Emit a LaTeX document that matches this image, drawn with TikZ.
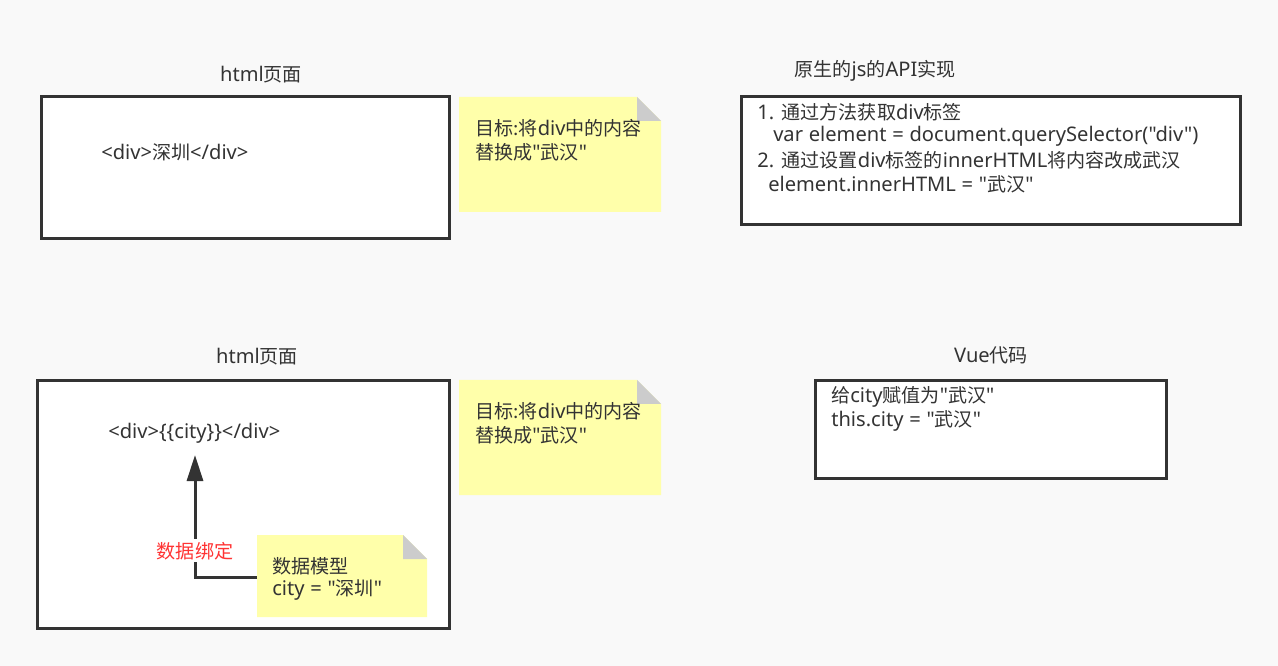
\documentclass[tikz,border=0pt]{standalone}
\usepackage{fontspec}
\setmainfont{Noto Sans}[Ligatures=TeXOff, Scale=1.055, WordSpace=1.1]
\newfontfamily\cjkfont{Noto Sans CJK SC}[Ligatures=TeXOff]
\newcommand{\zh}[1]{{\cjkfont #1}}
\usetikzlibrary{arrows.meta}
\definecolor{bg}{HTML}{F9F9F9}
\definecolor{edge}{HTML}{333333}
\definecolor{notey}{HTML}{FFFFAA}
\definecolor{fold}{HTML}{CCCCCC}
\definecolor{txt}{HTML}{333333}
\definecolor{redlab}{HTML}{FF3333}
\tikzset{
  frame/.style={draw=edge, line width=2.25pt, fill=white},
  txtw/.style={anchor=west, inner sep=0pt, text=txt, font=\fontsize{14.3}{17}\selectfont},
  ttl/.style={anchor=center, inner sep=0pt, text=txt, font=\fontsize{14.3}{17}\selectfont},
  conn/.style={draw=edge, line width=2.25pt, -{Triangle[width=12pt,length=19.5pt]}},
}
\newcommand{\stickynote}[5]{% name, x1,y1,x2,y2
  \fill[notey] (#2,#3) -- (#4-24,#3) -- (#4,#3+24) -- (#4,#5) -- (#2,#5) -- cycle;
  \fill[fold] (#4-24,#3) -- (#4-24,#3+24) -- (#4,#3+24) -- cycle;
  \coordinate (#1) at ({(#2+#4)/2},{(#3+#5)/2});
  \coordinate (#1-w) at (#2,{(#3+#5)/2});
}
\begin{document}
\begin{tikzpicture}[x=0.75pt,y=-0.75pt]
\fill[bg] (0,0) rectangle (1278,666);
\useasboundingbox (0,0) rectangle (1278,666);

% top-left
\node[ttl] (t1) at (261,75) {html\zh{页面}};
\draw[frame] (41,97) rectangle (449,239);
\node[txtw] (d1) at (101,152) {<div>\zh{深圳}</div>};
\stickynote{n1}{459}{97}{661}{212}
\node[txtw] (n1a) at (475,128) {\zh{目标:将}div\zh{中的内容}};
\node[txtw] (n1b) at (475,152) {\zh{替换成}"\zh{武汉}"};

% top-right
\node[ttl] (t2) at (875,71) {\zh{原生的}js\zh{的}API\zh{实现}};
\draw[frame] (741,97) rectangle (1240,225);
\node[txtw] (l1) at (757,112) {1. \zh{通过方法获取}div\zh{标签}};
\node[txtw] (l2) at (773,136) {var element = document.querySelector("div")};
\node[txtw] (l3) at (757,160) {2. \zh{通过设置}div\zh{标签的}innerHTML\zh{将内容改成武汉}};
\node[txtw] (l4) at (768,184) {element.innerHTML = "\zh{武汉}"};

% bottom-left
\node[ttl] (t3) at (257,357) {html\zh{页面}};
\draw[frame] (37,381) rectangle (449,628);
\node[txtw] (d2) at (108,433) {<div>\{\{city\}\}</div>};
\stickynote{n3}{257}{535}{427}{617}
\node[txtw] (m1) at (272,566) {\zh{数据模型}};
\node[txtw] (m2) at (272,590) {city = "\zh{深圳}"};
\coordinate (tip) at (195,455);
\coordinate (start) at (257,577);
\draw[conn] (start) -| (tip)
  node[pos=0.607, fill=white, inner sep=2pt, text=redlab, font=\fontsize{14.3}{17}\selectfont] (lab) {\zh{数据绑定}};

\stickynote{n2}{459}{380}{661}{495}
\node[txtw] (n2a) at (475,411) {\zh{目标:将}div\zh{中的内容}};
\node[txtw] (n2b) at (475,435) {\zh{替换成}"\zh{武汉}"};

% bottom-right
\node[ttl] (t4) at (991,355) {Vue\zh{代码}};
\draw[frame] (815,381) rectangle (1166,478);
\node[txtw] (v1) at (831,397) {\zh{给}city\zh{赋值为}"\zh{武汉}"};
\node[txtw] (v2) at (831,421) {this.city = "\zh{武汉}"};
\end{tikzpicture}
\end{document}
